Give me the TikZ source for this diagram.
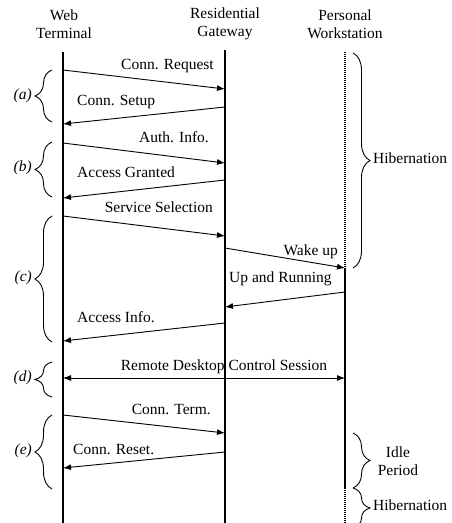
\documentclass[tikz,border=0pt]{standalone}
\usepackage{fontspec}
\setmainfont{Liberation Serif}
\usetikzlibrary{arrows.meta, decorations.pathreplacing, calc}

\tikzset{
  msg/.style={-{Latex[length=8pt,width=6pt]}, line width=0.9pt},
  bothmsg/.style={{Latex[length=8pt,width=6pt]}-{Latex[length=8pt,width=6pt]}, line width=0.9pt},
  life/.style={line width=1.1pt},
  asleep/.style={line width=1.1pt, dash pattern=on 1pt off 1pt},
  lbl/.style={font=\fontsize{15.5}{18}\selectfont, inner sep=0pt},
  head/.style={font=\fontsize{15.5}{18}\selectfont, align=center, inner sep=0pt},
  phase/.style={font=\fontsize{15.5}{18}\selectfont\itshape, inner sep=0pt, anchor=mid east},
  curly/.style={decorate, decoration={brace, amplitude=17pt}, line width=0.9pt},
}

\begin{document}
\begin{tikzpicture}[x=1pt, y=-1pt]
    \useasboundingbox (0,0) rectangle (452,523);

    \node[head] (webhd) at (64,24) {Web\\Terminal};
    \node[head] (gwhd) at (225,24) {Residential\\Gateway};
    \node[head] (wshd) at (345,24) {Personal\\Workstation};

    \coordinate (web) at (63,52);
    \coordinate (webend) at (63,523);
    \coordinate (gw) at (225,50);
    \coordinate (gwend) at (225,523);
    \coordinate (ws) at (345,52);
    \coordinate (wsup) at (345,268);
    \coordinate (wsdown) at (345,488);
    \coordinate (wsend) at (345,523);

    \draw[life] (web) -- (webend);
    \draw[life] (gw) -- (gwend);
    \draw[asleep] (ws) -- (wsup);
    \draw[life] (wsup) -- (wsdown);
    \draw[asleep] (wsdown) -- (wsend);

    \draw[msg] (web |- 0,70) -- (gw |- 0,89);
    \node[lbl, anchor=mid east] (req) at (214,67) {Conn. Request};
    \draw[msg] (gw |- 0,107) -- (web |- 0,124);
    \node[lbl, anchor=mid west] (setup) at (77,103) {Conn. Setup};
    \draw[msg] (web |- 0,143) -- (gw |- 0,163);
    \node[lbl, anchor=mid east] (auth) at (209,140) {Auth. Info.};
    \draw[msg] (gw |- 0,180) -- (web |- 0,198);
    \node[lbl, anchor=mid west] (granted) at (77,175) {Access Granted};
    \draw[msg] (web |- 0,216) -- (gw |- 0,236);
    \node[lbl, anchor=mid east] (select) at (213,210) {Service Selection};
    \draw[msg] (gw |- 0,248) -- (wsup);
    \node[lbl, anchor=mid east] (wake) at (338,253) {Wake up};
    \draw[msg] (ws |- 0,292) -- (gw |- 0,307);
    \node[lbl, anchor=mid west] (running) at (229,280) {Up and Running};
    \draw[msg] (gw |- 0,323) -- (web |- 0,341);
    \node[lbl, anchor=mid west] (info) at (77,320) {Access Info.};
    \draw[bothmsg] (web |- 0,378) -- (ws |- 0,378);
    \node[lbl, anchor=mid] (remote) at (224,368) {Remote Desktop Control Session};
    \draw[msg] (web |- 0,415) -- (gw |- 0,433);
    \node[lbl, anchor=mid east] (term) at (211,412) {Conn. Term.};
    \draw[msg] (gw |- 0,452) -- (web |- 0,468);
    \node[lbl, anchor=mid west] (reset) at (73,452) {Conn. Reset.};

    \draw[curly] (52,122) -- (52,70);
    \node[phase] (pa) at (32,97) {(a)};
    \draw[curly] (52,197) -- (52,142);
    \node[phase] (pb) at (32,169) {(b)};
    \draw[curly] (52,342) -- (52,216);
    \node[phase] (pc) at (32,279) {(c)};
    \draw[curly] (52,397) -- (52,362);
    \node[phase] (pd) at (32,379) {(d)};
    \draw[curly] (52,489) -- (52,415);
    \node[phase] (pe) at (32,452) {(e)};

    \draw[curly] (353,53) -- (353,268);
    \node[lbl, anchor=mid west] (hib) at (373,161) {Hibernation};
    \draw[curly] (353,433) -- (353,488);
    \node[head] (idle) at (398,461) {Idle\\Period};
    \draw[curly] (353,488) -- (353,528);
    \node[lbl, anchor=mid west] (hib2) at (373,508) {Hibernation};
\end{tikzpicture}
\end{document}
